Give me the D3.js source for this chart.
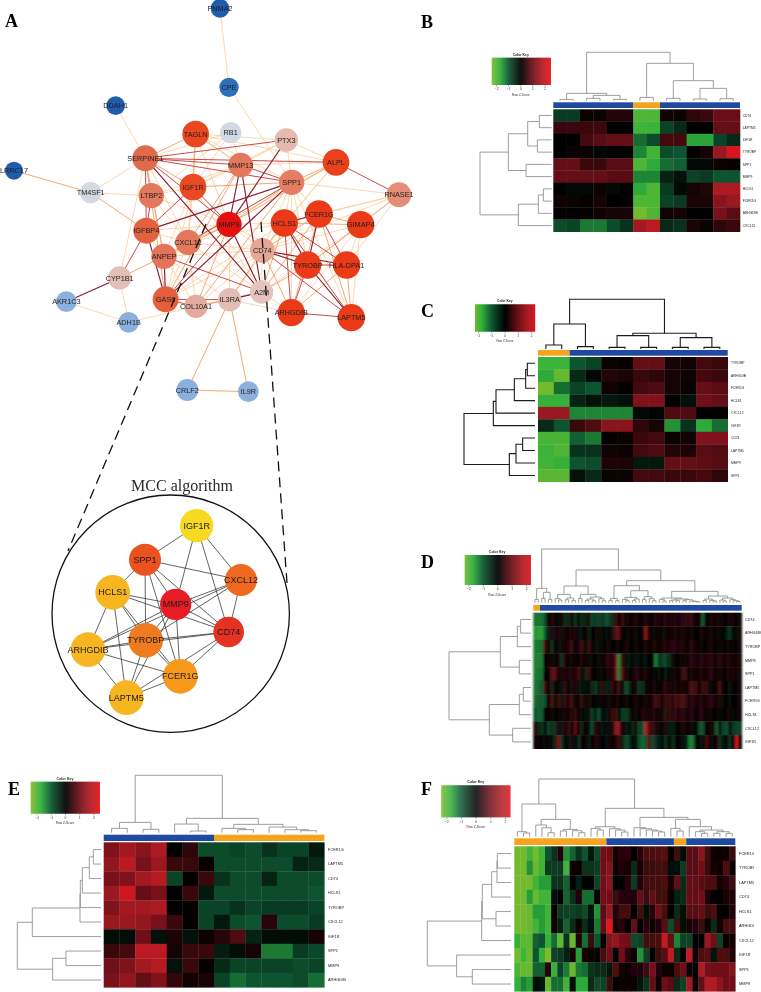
<!DOCTYPE html>
<html><head><meta charset="utf-8">
<script src="https://cdn.jsdelivr.net/npm/d3@7"></script>
<style>html,body{margin:0;padding:0;background:#fff}svg{display:block;filter:blur(.35px)}</style>
</head><body><svg id="fig" width="761" height="992"></svg>
<script>
// ---------- network (panel A): node table read in layout units ----------
const netNames=["PNMA2","CPE","DDAH1","LRRC17","TAGLN","RB1","PTX3","SERPINE1","MMP13","ALPL","SPP1","IGF1R","TM4SF1","LTBP2","RNASE1","FCER1G","HCLS1","GIMAP4","MMP9","IGFBP4","CXCL12","CD74","ANPEP","TYROBP","HLA-DPA1","CYP1B1","A2M","GAS6","IL3RA","COL10A1","AKR1C3","ADH1B","ARHGDIB","LAPTM5","CRLF2","IL9R"];
const netCx=[660,687,347,42,587,692,859,436,722,1008,875,579,272,454,1197,957,853,1082,687,439,564,787,492,923,1040,359,785,497,689,588,199,386,874,1054,562,745];
const netCy=[25,262,317,512,402,398,420,475,495,487,547,561,578,587,584,642,669,674,673,692,727,751,769,795,795,834,876,898,899,919,905,967,938,953,1170,1175];
const netDegree=[28,29,28,27,40,32,35,39,37,40,38,40,32,38,37,41,41,41,38,39,38,37,38,41,41,35,35,39,35,35,31,31,41,41,33,31];
const netFill=["#1f5cab","#2e6fbd","#1f5cab","#1f5cab","#e9471f","#d2d9e3","#e3b9b0","#e26a4c","#e4785c","#ea411c","#e47d62","#ea4a22","#d2d9e3","#e4785c","#e68d78","#ea3a17","#ea3a17","#ea3a17","#e51010","#e2613e","#e4785c","#e3a794","#e4735a","#ea3a17","#ea3a17","#e3c0b7","#e5c5bb","#e55f3a","#e3bdb3","#e3aba0","#8cb0de","#8cb0de","#ea3a17","#ea3a17","#8cb0de","#8cb0de"];
const edgesWeak=["PNMA2 CPE","CPE SPP1","DDAH1 SERPINE1","TM4SF1 SERPINE1","TM4SF1 LTBP2","SERPINE1 LTBP2","SERPINE1 CYP1B1","SERPINE1 CXCL12","SERPINE1 RB1","TAGLN SPP1","TAGLN MMP9","TAGLN CXCL12","TAGLN PTX3","TAGLN ALPL","RB1 IGF1R","RB1 MMP13","RB1 LTBP2","PTX3 SPP1","PTX3 MMP13","PTX3 ALPL","PTX3 IGF1R","MMP13 IGF1R","MMP13 ALPL","MMP13 LTBP2","SPP1 RNASE1","SPP1 HCLS1","SPP1 FCER1G","SPP1 CD74","SPP1 TYROBP","SPP1 ARHGDIB","SPP1 ANPEP","SPP1 LAPTM5","ALPL HCLS1","ALPL CD74","ALPL CXCL12","IGF1R LTBP2","IGF1R CXCL12","IGF1R GAS6","IGF1R ANPEP","IGF1R A2M","LTBP2 CXCL12","LTBP2 ANPEP","LTBP2 MMP9","IGFBP4 CXCL12","IGFBP4 ANPEP","IGFBP4 MMP9","MMP9 CD74","MMP9 HCLS1","MMP9 TYROBP","MMP9 IL3RA","CXCL12 CD74","CXCL12 GAS6","CXCL12 ANPEP","CXCL12 COL10A1","CXCL12 HCLS1","CXCL12 A2M","ANPEP IL3RA","ANPEP COL10A1","ANPEP CD74","CD74 GIMAP4","CD74 A2M","CD74 COL10A1","CD74 GAS6","CD74 RNASE1","HCLS1 IL3RA","HCLS1 GAS6","HCLS1 RNASE1","FCER1G RNASE1","GIMAP4 HLA-DPA1","GIMAP4 A2M","GIMAP4 ARHGDIB","GIMAP4 LAPTM5","RNASE1 TYROBP","RNASE1 HLA-DPA1","ARHGDIB A2M","COL10A1 ADH1B","IL3RA ARHGDIB","CYP1B1 ADH1B","AKR1C3 ADH1B"];
const edgesMedium=["LRRC17 TM4SF1","TM4SF1 IGFBP4","SERPINE1 TAGLN","SERPINE1 IGF1R","SERPINE1 ANPEP","SERPINE1 GAS6","TAGLN IGF1R","TAGLN MMP13","MMP13 CXCL12","MMP13 GAS6","SPP1 ALPL","SPP1 IGF1R","SPP1 MMP9","SPP1 COL10A1","ALPL MMP9","MMP9 CXCL12","MMP9 ANPEP","MMP9 COL10A1","ANPEP CYP1B1","CD74 HCLS1","CD74 FCER1G","CD74 ARHGDIB","CD74 IL3RA","HCLS1 GIMAP4","HCLS1 A2M","FCER1G GIMAP4","FCER1G ARHGDIB","FCER1G LAPTM5","FCER1G A2M","GIMAP4 RNASE1","GIMAP4 TYROBP","TYROBP A2M","HLA-DPA1 ARHGDIB","COL10A1 IL3RA","COL10A1 A2M","IL3RA CRLF2","IL3RA IL9R","CRLF2 IL9R","HLA-DPA1 LAPTM5"];
const edgesStrong=["SERPINE1 PTX3","SERPINE1 ALPL","SERPINE1 MMP13","SERPINE1 SPP1","SERPINE1 MMP9","SERPINE1 IGFBP4","MMP13 SPP1","SPP1 CXCL12","ALPL RNASE1","IGF1R MMP9","IGF1R IGFBP4","LTBP2 IGFBP4","IGFBP4 CYP1B1","MMP9 GAS6","ANPEP A2M","CD74 LAPTM5","HCLS1 HLA-DPA1","HCLS1 ARHGDIB","HCLS1 LAPTM5","FCER1G HLA-DPA1","TYROBP HLA-DPA1","TYROBP ARHGDIB","ARHGDIB LAPTM5","GAS6 IL3RA","GAS6 COL10A1"];
const edgesTop=["SERPINE1 A2M","PTX3 MMP9","MMP13 MMP9","MMP13 A2M","SPP1 IGFBP4","SPP1 GAS6","IGFBP4 GAS6","MMP9 A2M","ANPEP GAS6","CD74 TYROBP","CD74 HLA-DPA1","HCLS1 FCER1G","HCLS1 TYROBP","FCER1G TYROBP","TYROBP LAPTM5","A2M IL3RA","CYP1B1 AKR1C3"];
// ---------- MCC sub-network ----------
const mccNames=["IGF1R","SPP1","CXCL12","HCLS1","MMP9","CD74","TYROBP","ARHGDIB","FCER1G","LAPTM5"];
const mccCx=[470,315,603,218,407,566,317,144,421,259];
const mccCy=[197,299,360,397,433,516,541,569,649,713];
const mccSize=[50,48,48,52,47,46,52,52,52,52];
const mccFill=["#f6d921","#ea5220","#ef6a20","#f7b51f","#e81c25","#e63223","#ef7b1f","#f7b51f","#f79a1c","#f7b51f"];
const mccEdges=["IGF1R SPP1","IGF1R MMP9","IGF1R CXCL12","IGF1R CD74","SPP1 HCLS1","SPP1 CXCL12","SPP1 MMP9","SPP1 TYROBP","SPP1 CD74","SPP1 FCER1G","HCLS1 ARHGDIB","HCLS1 MMP9","HCLS1 LAPTM5","HCLS1 TYROBP","HCLS1 CD74","HCLS1 FCER1G","MMP9 CXCL12","MMP9 CD74","MMP9 TYROBP","MMP9 FCER1G","MMP9 ARHGDIB","MMP9 LAPTM5","CXCL12 CD74","CXCL12 ARHGDIB","CXCL12 TYROBP","CD74 TYROBP","CD74 ARHGDIB","CD74 FCER1G","CD74 LAPTM5","TYROBP ARHGDIB","TYROBP FCER1G","TYROBP LAPTM5","ARHGDIB FCER1G","ARHGDIB LAPTM5","FCER1G LAPTM5"];
// ---------- heat maps: z-scores by row ----------
const keyTicks=[-2,-1,0,1,2];
const bRows=["CD74","LAPTM5","IGF1R","TYROBP","SPP1","MMP9","HCLS1","FCER1G","ARHGDIB","CXCL12"];
const bValues=[
[-.7,-.7,.1,.1,.3,.3,-2,-2,.15,.1,.4,.5,.95,.95],
[.5,.5,.5,.55,0,0,-1.9,-1.85,-.8,-.5,0,0,.9,.9],
[0,0,.6,.8,.9,.9,-1.2,-.9,.6,.6,-1.65,-1.65,-.8,-.5],
[0,.1,.1,-.1,.05,.05,-1.4,-1.9,-.9,-1,0,.2,1.5,2.2],
[.9,.9,.5,.5,.8,.8,-2,-1.7,-1.2,-1.1,-.1,-.1,.1,.05],
[.9,.9,.9,.9,.8,.8,-1.4,-1.4,-.4,-.2,-.8,-.7,-1,-1],
[0,-.1,-.1,.1,-.1,0,-1.7,-2,-.7,-.1,.2,.3,1.7,1.7],
[.15,.1,.05,.2,0,.05,-2,-2,-.8,-.7,.25,.25,1.3,1.5],
[0,0,.05,.15,.2,.2,-2.3,-2,.15,.2,0,0,1.1,.8],
[-.9,-.8,-1.3,-1.3,-.9,-.6,1.6,1.9,-.5,-.6,.25,.1,.4,.5]];
const bGroups=[6,-2,6];
const bColTree=[145,[22,[4,0,0],[16,[7,0,0],[4,0,0]]],[112,[10,0,0],[60,[7,0,0],[37,[5,0,0],[6,0,0]]]]];
const bRowTree=[215,[130,[72,[37,0,0],[43,0,0]],[77,0,0]],[100,[40,[25,0,0],0],0]];

const cRows=["TYROBP","ARHGDIB","FCER1G","HCLS1","CXCL12","IGF1R","CD74","LAPTM5","MMP9","SPP1"];
const cValues=[
[-1.85,-1.85,-1,-.8,.1,.05,.9,.9,.2,.15,.6,.5],
[-1.7,-2.2,-.5,-.1,.3,.25,.5,.4,.2,.15,.6,.5],
[-2.3,-1.2,-.8,-1,.15,.05,.6,.7,.2,.1,.9,.8],
[-1.8,-1.8,-.4,-.2,-.3,-.2,1.2,1.2,0,-.2,1,.9],
[1.5,1.5,-1.4,-1.4,-1.4,-1.4,-.1,-.05,.7,.7,0,0],
[-.5,-1,.5,.7,1.3,1.3,.4,.2,-1.5,-.6,-1.7,-1.2],
[-1.95,-1.95,-1.1,-1.3,.05,.1,.5,.6,.1,.15,1.2,1.2],
[-1.85,-2,-.6,-.6,.15,.1,.6,.7,.3,.25,.8,.75],
[-1.9,-1.8,-1,-.9,.25,.25,-.3,-.3,.9,.9,.85,.8],
[-2.1,-2.1,-.2,-.5,.1,.1,.6,.6,.5,.5,.6,.4]];
const cGroups=[-2,10];
const cColTree=[149,[75,[12,0,0],[7,0,0]],[47,[40,[5,0,0],[5,0,0]],[34,[5,0,0],[5,0,0]]]];
const cRowTree=[213,[125,[117,[62,[28,[23,0,0],0],0],0],0],[77,[57,[37,0,0],0],0]];

const dRows=["CD74","ARHGDIB","TYROBP","MMP9","SPP1","LAPTM5","FCER1G","HCLS1","CXCL12","IGF1R"];
const dValues=[
[-1.3,-1.4,-1.3,-1,.2,.3,.2,-.2,.2,-.6, -.5,.1,-.7,-.1,-.5,-.5,.2,-.9,-.8,-.8, -.7,-1,-.8,-.6,.6,0,.6,.2,.15,.2, .25,.1,.1,.25,.2,.1,.3,.35,.2,.3, .35,.2,.3,.3,.4,.45,.45,.4,.1,.2, -1.1,0,.1,.2,.25,.1,.1,.1,.2,.3,0,.1],
[-1.6,-1.7,-1.7,-1.1,-.4,.4,-.2,.4,-.1,.3, .2,.1,.4,-.2,-.2,.1,-.4,.05,-.1,.2, -.1,-.2,.05,-.3,.9,.8,.1,0,.1,.1, .1,0,.05,1.4,.1,.1,.05,.2,-.1,.2, .2,.05,.3,.2,.1,.2,.1,.1,0,.1, .2,.1,.15,.1,.2,.05,0,-.4,-.6,-.2,-.1,.1],
[-1.4,-1.4,-1.3,.7,-.1,-.6,.1,-.3,.1,.2, .4,.5,.1,.3,.6,-.1,.5,.2,-.3,.1, -.1,.1,.1,.05,.15,.1,.1,.2,.1,0, .1,.05,.1,.2,.1,.2,.2,.2,.25,.25, .3,.3,.3,.3,.25,.1,.3,.3,.2,.1, 0,.15,.2,.15,-.05,-.05,.1,.1,0,.1,.05,.15],
[-1.4,-1.5,-1.4,.05,.2,.1,-.1,.3,-.6,.4, .1,.1,.2,.05,.3,.2,.1,-.1,0,.1, .15,.3,.4,.35,1,-1.5,.6,-.1,-.3,-.1, -.1,-.2,-.1,-.1,0,-.1,-1.4,-.7,-.8,-.8, -.6,.1,.05,.15,.05,.25,.3,.3,.3,.3, .3,.35,.35,.3,.3,.3,.25,.3,.2,.2,.2,.1],
[-1.4,-1.4,-1.3,0,.1,.8,.9,.2,.2,.3, .3,.2,.4,.6,.1,-.5,.5,.1,0,.05, -.1,.1,.2,.3,1.1,-1.4,.9,.1,.1,.2, .3,.3,.2,.2,.1,.05,0,-.3,.05,-.3, -.1,.1,.1,.2,.5,.5,.1,.1,.2,.25, .2,.25,.3,.3,.2,.15,.1,.2,.1,.3,.2,.1],
[-1.3,-1.3,-1.1,.7,.1,-.5,.2,-.1,-.2,.5, .2,-.2,.4,-.3,-.2,-.3,.05,-.5,-.7,-.2, .5,-.4,-.3,.5,.1,.6,-.2,-.9,-.6,.1, .1,-.7,-.6,0,.1,.2,.1,.1,.2,.4, .4,0,.3,.2,.1,.1,.5,.7,.6,.1, .5,.6,.1,0,.2,.6,.1,0,-.2,.1,.05,.1],
[-1.2,-1.2,-1.1,-1,0,.7,-.1,.6,-.2,.5, .4,.6,-.1,.2,.5,-.1,.3,.05,.1,0, .1,.1,-.1,.2,.1,.1,.1,.1,.05,.1, .1,.1,.15,.1,.1,.4,.6,.5,.2,.5, .6,.4,.7,.6,.7,.5,.3,.4,.3,.3, .2,.3,.3,.4,.2,.3,-.1,-.05,-.1,0,.05,.1],
[-1,-1.2,-1.1,.1,0,.1,0,.1,.05,.3, .2,.3,.5,.1,-.1,-.3,.1,-.8,-.4,-.9, -.2,-.3,.1,.5,.6,-.1,-.8,-.7,-.5,.1, .1,0,.4,.1,.3,.4,.1,.3,-.1,.5, .5,.4,.45,.4,.35,.3,.3,.3,.1,.3, .3,.2,.15,0,.1,.05,0,.1,.15,-.1,.1,.05],
[.4,-.5,-.6,-.2,-.9,-.5,-.7,.3,-.3,.4, .5,.1,.9,.2,-.5,.1,-.2,-.9,.4,.1, -.3,-.2,.2,-.2,1.4,1.4,.2,-.3,-.1,-.5, .1,-.9,-1,1.9,.8,.5,.3,-.2,.2,.3, -.4,-.3,-.1,.1,.2,.2,.1,-.1,.05,-1, -1,0,.1,.2,-1.1,-.2,-.9,-1,-.2,-.8,-.9,-.7],
[0,.2,0,.1,-.2,.1,-.5,1.2,-.6,-.1, -.3,.3,-.2,-.6,.1,.2,-.3,0,.4,.1, 0,-.2,.2,.1,.3,.5,-.5,-.9,-.7,-.2, -.1,-1,-1.2,-1,.9,-.9,-.6,-.4,-.2,-.6, -.1,-.5,-.1,.1,-.2,-.4,-1.4,-1.3,.05,-.1, -.2,.7,.2,-.1,.3,-.6,-.3,-.2,-.6,-.2,2.3,.05]];
const dGroups=[-2,60];
const dColTree=[161,[43,[10,0,0],[31,[13,0,0],[10,0,0]]],[98,[50,[25,[12,0,[8,0,0]],[14,[9,0,0],[7,0,0]]],[25,[13,0,0],[17,[11,[7,0,0],[6,0,0]],[12,0,[6,0,0]]]]],[66,[51,[13,[7,0,0],[6,0,0]],[36,[16,[10,0,[6,0,0]],[11,[7,0,0],0]],[18,[10,0,0],[12,0,[6,0,0]]]]],[34,[14,[10,0,[5,0,0]],[11,[8,[6,0,0],[6,0,0]],[9,[6,0,0],[5,0,[4,0,[3,0,0]]]]]],[20,[11,[7,0,0],[7,0,[5,0,0]]],[14,[8,0,[5,0,0]],[9,0,[6,0,[4,0,0]]]]]]]]];
const dRowTree=[246,[92,[41,[31,0,0],0],[35,0,0]],[125,[35,[23,0,0],0],[55,0,0]]];

const eRows=["FCER1G","LAPTM5","CD74","HCLS1","TYROBP","CXCL12","IGF1R","SPP1","MMP9","ARHGDIB"];
const eValues=[
[1.2,1.6,1.3,1.7,0,.4,-.9,-.9,-.8,-.9,-.6,-.8,-.8,-.3],
[1.4,1.9,1.1,1.5,.5,.5,.05,-.9,-.9,-.9,-.9,-.9,-.4,-.5],
[1.1,1.2,1.6,1.8,-.8,.05,.5,-.6,-.9,-.9,-.4,-.9,-.9,-.9],
[1.5,2.1,.9,1.1,0,.5,-.3,-.9,-.9,-.9,-.9,-.9,-.9,-1],
[1.2,1.6,1.6,1.7,0,.05,-.8,-.8,-.6,-.8,-.7,-.7,-.7,-.8],
[1.5,1.5,1.4,1.1,.5,.05,-.8,-.3,-.9,-1,.35,-.9,-.9,-.7],
[-.15,-.15,1,-.2,.25,-.2,.1,.35,.7,-.4,-.15,-.15,-.15,.2],
[.5,.6,1.9,1.9,.2,.5,.5,-.35,-.15,.2,-1.3,-1.3,-.7,-.85],
[1,1.2,1.6,1.8,-.2,.5,.05,-.5,-.8,-.8,-.8,-.8,-.9,-.8],
[1.1,1.4,.9,1.2,.45,.15,.2,-.8,-1.2,-1,-1,-1,-.9,-1.2]];
const eGroups=[7,-7];
const eColTree=[172,[31,[13,0,0],[10,0,0]],[43,[26,0,[5,0,0]],[25,[13,0,[9,0,0]],[17,0,[9,0,[6,0,0]]]]]];
const eRowTree=[251,[206,[63,[62,[56,[35,[23,0,0],0],0],0],0],0],[145,[105,0,0],0]];

const fRows=["FCER1G","TYROBP","LAPTM5","CD74","HCLS1","ARHGDIB","CXCL12","IGF1R","SPP1","MMP9"];
const fValues=[
[-2.3,-2.3,-1.9,-2.3,-1.9,-1,-.6,.3,-1.5,-1.1, -.6,-1,-.3,-.9,1,1,.2,.4,.4,0, .4,.7,.7,.7,.8,0,.6,-.1,.8,.8, 1.3,.6,.1,.1,.1,.5],
[-2.3,-2.3,-1.5,-2.2,-1.9,-.7,-.7,-.7,-1.9,.1, .15,-.6,-.6,-.7,1,1.2,.15,.3,.2,-.5, .2,.5,.5,.6,.6,-.2,-.2,-.7,.8,.8, 1,.5,.2,.1,.7,.1],
[-2.3,-2.3,-2.3,-1.9,-1.6,-1.6,-.6,-.6,-1.1,-.05, -.4,0,0,-.8,1,1.3,0,0,.4,-.7, .3,.6,.6,.6,.7,.2,.9,-.5,.9,.9, .8,.7,.7,.2,.3,.5],
[-2.3,-2.3,-1.6,-2.2,-1.9,-1.9,-.2,.05,-1.1,-.6, .3,-1.2,-1.2,0,1,1,.5,.4,.3,.3, .9,.5,.9,.6,.6,.1,-.4,-.5,.9,.9, 1,.3,0,0,.2,.3],
[-2.3,-2.3,-2.2,-1.6,-1.6,-1.9,.1,-.7,-.8,-.8, -.7,-.9,-.3,-1.5,.8,1.5,.3,.6,.6,0, .6,-.1,.4,1,.6,0,-.5,-.1,.8,.8, .9,.5,.7,0,0,.3],
[-2.3,-2.3,-2.2,-1.9,-1.6,-1.9,.2,-.4,-1.1,-.5, .1,-.5,-.2,-1.3,.9,2.4,.2,.4,0,.9, .05,.4,.1,.3,.8,-.9,.6,-.1,.2,.3, .5,.1,-.5,.2,.6,.6],
[-1.8,-2.1,-2.1,-1.1,-1,-1.8,-1.2,-2.1,-.6,-2.2, .3,-1.2,.5,-1,0,1.2,1.4,1.1,1,-.9, -.8,.6,.6,.7,1.9,.9,-1.4,-.8,-.8,0, 0,1.5,1,-.8,.1,.2],
[-2.3,-1.9,-2.2,-1,-1.8,-2.4,-.8,-.7,-.4,.2, -1.6,.2,.1,.05,.6,1,.05,1,.4,0, -1.5,-.8,0,.5,.8,1.9,-.5,0,1.9,.1, .7,.8,-.3,.7,.7,.3],
[-2,-2.2,-2.2,-1.1,-1.1,.4,-1.8,-.8,-1.3,-2.2, -1.3,-1.2,-.6,-.5,-.5,-.3,.7,.2,.1,.3, .3,.5,1.1,.3,.1,.1,.7,1,.1,.05, 1.7,1.1,1,1,1,1.2],
[-1.8,-1.4,-1.6,-.1,-.3,-2.2,-1.2,-1.2,-1.9,-.1, -1.7,-1.7,-.5,-.9,-.8,.5,.05,.1,.1,.15, -.3,-.6,.9,.1,1,.8,-.5,-.8,1.6,.1, .9,1.7,1.7,1.3,1,1]];
const fGroups=[-15,11,-2,8];
const fColTree=[173,[98,[15,0,[11,0,0]],[52,[35,0,[27,0,[12,0,0]]],[22,[17,0,0],[18,0,[12,0,0]]]]],[85,[30,[25,0,[20,0,0]],[24,0,[20,0,[14,0,0]]]],[58,[27,0,[24,0,[20,0,[17,0,[14,0,0]]]]],[52,[25,0,[17,0,0]],[30,0,[20,[15,0,[10,0,0]],[15,[10,0,0],[10,0,0]]]]]]]];
const fRowTree=[251,[88,[86,[58,[42,[41,0,0],0],0],[45,0,0]],0],[163,0,[116,0,0]]];

// ---------- drawing ----------
const SANS="'Liberation Sans',Arial,sans-serif", SERIF="'Liberation Serif','Times New Roman',serif";
const svg=d3.select("#fig");
const color=d3.scaleLinear().domain([-2.45,-1.75,-1,0,1,1.75,2.45])
  .range(["#86bd2b","#2fb03b","#0d5430","#000000","#6f0f18","#b01c24","#ea121b"]).clamp(true);
const defs=svg.append("defs");
const softD=defs.append("filter").attr("id","softD").attr("x","-2%").attr("y","-2%").attr("width","104%").attr("height","104%");
softD.append("feGaussianBlur").attr("stdDeviation","1.1 0.5");
softD.append("feColorMatrix").attr("type","matrix").attr("values",".8 0 0 0 0 0 .8 0 0 0 0 0 .8 0 0 0 0 0 1 0");
defs.append("filter").attr("id","softF").attr("x","-2%").attr("y","-2%").attr("width","104%").attr("height","104%")
  .append("feGaussianBlur").attr("stdDeviation","0.5 0.5");

function drawTree(g,tree,axis,band,hScale,stroke,width){
  let leaf=0;
  const line=d3.line();
  (function walk(n){
    if(!Array.isArray(n)) return {p:band(leaf++)+band.bandwidth()/2,h:0};
    const a=walk(n[1]), b=walk(n[2]), h=n[0];
    const pts=[[a.p,a.h],[a.p,h],[b.p,h],[b.p,b.h]];
    g.append("path").attr("fill","none").attr("stroke",stroke).attr("stroke-width",width)
      .attr("d",line(pts.map(d=>axis==="col"?[d[0],hScale(d[1])]:[hScale(d[1]),d[0]])));
    return {p:(a.p+b.p)/2,h};
  })(tree);
}

function heatmap(o){
  const g=svg.append("g");
  const nCol=o.values[0].length;
  const x=d3.scaleBand().domain(d3.range(nCol)).range([o.x0,o.x1]);
  const y=d3.scaleBand().domain(o.rows).range([o.y0,o.y1]);
  const cells=g.append("g");
  if(o.soft) cells.attr("filter",`url(#${o.soft})`);
  cells.selectAll("g").data(o.values).join("g").each(function(row,i){
    d3.select(this).selectAll("rect").data(row).join("rect")
      .attr("x",(d,j)=>x(j)).attr("y",y(o.rows[i]))
      .attr("width",x.bandwidth()+.3).attr("height",y.bandwidth()+.3)
      .attr("fill",d=>color(d));
  });
  // column side bar: negative group lengths are the orange class
  let c=0;
  o.groups.forEach(n=>{
    const k=Math.abs(n);
    g.append("rect").attr("x",x(c)).attr("y",o.barY0)
      .attr("width",x.bandwidth()*k).attr("height",o.barY1-o.barY0)
      .attr("fill",n<0?"#f5a41f":"#1f4a9f");
    c+=k;
  });
  // dendrograms
  const hc=d3.scaleLinear().domain([0,o.colTree[0]]).range([o.colBase,o.colTop]);
  const hr=d3.scaleLinear().domain([0,o.rowTree[0]]).range([o.rowBase,o.rowTop]);
  drawTree(g.append("g"),o.colTree,"col",x,hc,o.treeColor,o.treeWidth);
  const rowBand=d3.scaleBand().domain(d3.range(o.rows.length)).range([o.y0,o.y1]);
  drawTree(g.append("g"),o.rowTree,"row",rowBand,hr,o.treeColor,o.treeWidth);
  // row labels
  let lab=g;
  if(o.clip){
    svg.append("clipPath").attr("id",o.id+"c").append("rect")
      .attr("x",o.labelX-2).attr("y",o.y0).attr("width",o.clip-o.labelX+2).attr("height",o.y1-o.y0);
    lab=g.append("g").attr("clip-path",`url(#${o.id}c)`);
  }
  lab.selectAll("text.r").data(o.rows).join("text").attr("class","r")
    .attr("x",o.labelX).attr("y",d=>y(d)+y.bandwidth()/2).attr("dy",".35em")
    .attr("font-family",SANS).attr("font-size",o.labelSize).attr("fill","#222").text(d=>d);
  // colour key
  const k=o.key;
  const kx=d3.scaleLinear().domain(k.domain).range([k.x0,k.x1]);
  const kk=g.append("g");
  const steps=d3.range(k.x0,k.x1,1);
  kk.selectAll("rect").data(steps).join("rect").attr("x",d=>d).attr("y",k.y0)
    .attr("width",1.2).attr("height",k.y1-k.y0).attr("fill",d=>color(kx.invert(d)));
  const ax=kk.append("g").attr("transform",`translate(0,${k.y1})`)
    .call(d3.axisBottom(kx).tickValues(keyTicks).tickSize(1.6).tickPadding(1.2).tickFormat(d=>d==0?"0":(d<0?"\u2212"+(-d):d)));
  ax.select(".domain").remove();
  ax.selectAll("line").attr("stroke","#444").attr("stroke-width",.5);
  ax.selectAll("text").attr("font-family",SANS).attr("font-size",k.size).attr("fill","#333");
  const mid=(k.x0+k.x1)/2;
  kk.append("text").attr("x",mid).attr("y",k.y0-2.2).attr("text-anchor","middle")
    .attr("font-family",SANS).attr("font-weight","bold").attr("font-size",k.size+.2).attr("fill","#222").text("Color Key");
  kk.append("text").attr("x",mid).attr("y",k.y1+10.5).attr("text-anchor","middle")
    .attr("font-family",SANS).attr("font-size",k.size-.2).attr("fill","#333").text("Row Z-Score");
}

heatmap({id:"b",values:bValues,rows:bRows,groups:bGroups,colTree:bColTree,rowTree:bRowTree,
  x0:553.3,x1:740,y0:109.3,y1:231.7,barY0:102.3,barY1:108,colBase:100.7,colTop:52.3,rowBase:551.7,rowTop:480,
  labelX:742.7,labelSize:3.3,treeColor:"#8d8d8d",treeWidth:.85,
  key:{x0:491.7,x1:550,y0:57.7,y1:85,domain:[-2.37,2.46],size:3.2}});
heatmap({id:"c",values:cValues,rows:cRows,groups:cGroups,colTree:cColTree,rowTree:cRowTree,
  x0:538,x1:727.7,y0:357,y1:481.7,barY0:350,barY1:355.7,colBase:349,colTop:299.3,rowBase:535,rowTop:464,
  labelX:731,labelSize:3.3,treeColor:"#1c1c1c",treeWidth:1.1,
  key:{x0:475,x1:534.7,y0:304.3,y1:331.7,domain:[-2.23,2.27],size:3.1}});
heatmap({id:"d",values:dValues,rows:dRows,groups:dGroups,colTree:dColTree,rowTree:dRowTree,soft:"softD",
  x0:533.3,x1:741.7,y0:612.7,y1:748.7,barY0:605,barY1:610.7,colBase:602.7,colTop:549,rowBase:531,rowTop:449,
  labelX:745,labelSize:3.7,clip:761,treeColor:"#8d8d8d",treeWidth:.85,
  key:{x0:464.7,x1:529.7,y0:555,y1:585,domain:[-2.25,2.25],size:3.3}});
heatmap({id:"e",values:eValues,rows:eRows,groups:eGroups,colTree:eColTree,rowTree:eRowTree,
  x0:103.7,x1:324.3,y0:842.3,y1:987.3,barY0:834.7,barY1:841,colBase:832.7,colTop:775.3,rowBase:101,rowTop:17.3,
  labelX:328,labelSize:3.9,treeColor:"#8d8d8d",treeWidth:.85,
  key:{x0:30.7,x1:99.3,y0:781.7,y1:813.7,domain:[-2.42,2.42],size:3.4}});
heatmap({id:"f",values:fValues,rows:fRows,groups:fGroups,colTree:fColTree,rowTree:fRowTree,soft:"softF",
  x0:514.3,x1:735.3,y0:846.3,y1:991.3,barY0:838.3,barY1:845,colBase:836.7,colTop:779,rowBase:511,rowTop:427.3,
  labelX:739,labelSize:3.9,clip:754,treeColor:"#8d8d8d",treeWidth:.85,
  key:{x0:441.3,x1:510.3,y0:785.3,y1:817.3,domain:[-2.34,2.36],size:3.4}});

// panel A network
const nx=d3.scaleLinear().domain([0,1290]).range([0,430]);
const ny=d3.scaleLinear().domain([0,1200]).range([0,400]);
const nr=d3.scaleLinear().domain([0,30]).range([0,10]);
const idx=new Map(netNames.map((n,i)=>[n,i]));
const net=svg.append("g");
function edgeLayer(list,stroke,width){
  net.append("g").selectAll("line").data(list.map(s=>s.split(" "))).join("line")
    .attr("x1",d=>nx(netCx[idx.get(d[0])])).attr("y1",d=>ny(netCy[idx.get(d[0])]))
    .attr("x2",d=>nx(netCx[idx.get(d[1])])).attr("y2",d=>ny(netCy[idx.get(d[1])]))
    .attr("stroke",stroke).attr("stroke-width",width);
}
edgeLayer(edgesWeak,"#fbc994",.75);
edgeLayer(edgesMedium,"#f39f62",.9);
edgeLayer(edgesStrong,"#c9403f",.95);
edgeLayer(edgesTop,"#8a1a30",1.15);
net.append("g").selectAll("circle").data(netNames).join("circle")
  .attr("cx",(d,i)=>nx(netCx[i])).attr("cy",(d,i)=>ny(netCy[i])).attr("r",(d,i)=>nr(netDegree[i]))
  .attr("fill",(d,i)=>netFill[i]);
net.append("g").selectAll("text").data(netNames).join("text")
  .attr("x",(d,i)=>nx(netCx[i])).attr("y",(d,i)=>ny(netCy[i])).attr("dy",".35em").attr("text-anchor","middle")
  .attr("font-family",SANS).attr("font-size",7.3).attr("fill","#1e1e1e").text(d=>d);

// callout dashes
const dashLine=d3.line();
[[[206,224],[68,551]],[[261,222],[287,583]]].forEach(s=>{
  svg.append("path").attr("d",dashLine(s)).attr("fill","none").attr("stroke","#111")
    .attr("stroke-width",1.3).attr("stroke-dasharray","10,6");
});

// MCC panel
const mx=d3.scaleLinear().domain([0,810]).range([40,310]);
const my=d3.scaleLinear().domain([0,810]).range([460,730]);
const mr=d3.scaleLinear().domain([0,30]).range([0,10]);
const mccIdx=new Map(mccNames.map((n,i)=>[n,i]));
svg.append("circle").attr("cx",170.7).attr("cy",613.7).attr("r",118.7)
  .attr("fill","none").attr("stroke","#111").attr("stroke-width",1.3);
svg.append("text").attr("x",182).attr("y",491).attr("text-anchor","middle")
  .attr("font-family",SERIF).attr("font-size",16).attr("fill","#2a2a2a").text("MCC algorithm");
const mcc=svg.append("g");
mcc.selectAll("line").data(mccEdges.map(s=>s.split(" "))).join("line")
  .attr("x1",d=>mx(mccCx[mccIdx.get(d[0])])).attr("y1",d=>my(mccCy[mccIdx.get(d[0])]))
  .attr("x2",d=>mx(mccCx[mccIdx.get(d[1])])).attr("y2",d=>my(mccCy[mccIdx.get(d[1])]))
  .attr("stroke","#3c3c3c").attr("stroke-width",.8);
mcc.selectAll("circle").data(mccNames).join("circle")
  .attr("cx",(d,i)=>mx(mccCx[i])).attr("cy",(d,i)=>my(mccCy[i])).attr("r",(d,i)=>mr(mccSize[i]))
  .attr("fill",(d,i)=>mccFill[i]);
mcc.selectAll("text").data(mccNames).join("text")
  .attr("x",(d,i)=>mx(mccCx[i])).attr("y",(d,i)=>my(mccCy[i])).attr("dy",".35em").attr("text-anchor","middle")
  .attr("font-family",SANS).attr("font-size",9).attr("fill","#1a1a1a").text(d=>d);

// panel letters
const letters=["A","B","C","D","E","F"], letterX=[5,421,421,421,8,421], letterY=[27,28,317,568,795,795];
svg.selectAll("text.l").data(letters).join("text").attr("class","l")
  .attr("x",(d,i)=>letterX[i]).attr("y",(d,i)=>letterY[i])
  .attr("font-family",SERIF).attr("font-weight","bold").attr("font-size",18).attr("fill","#000").text(d=>d);
</script></body></html>
